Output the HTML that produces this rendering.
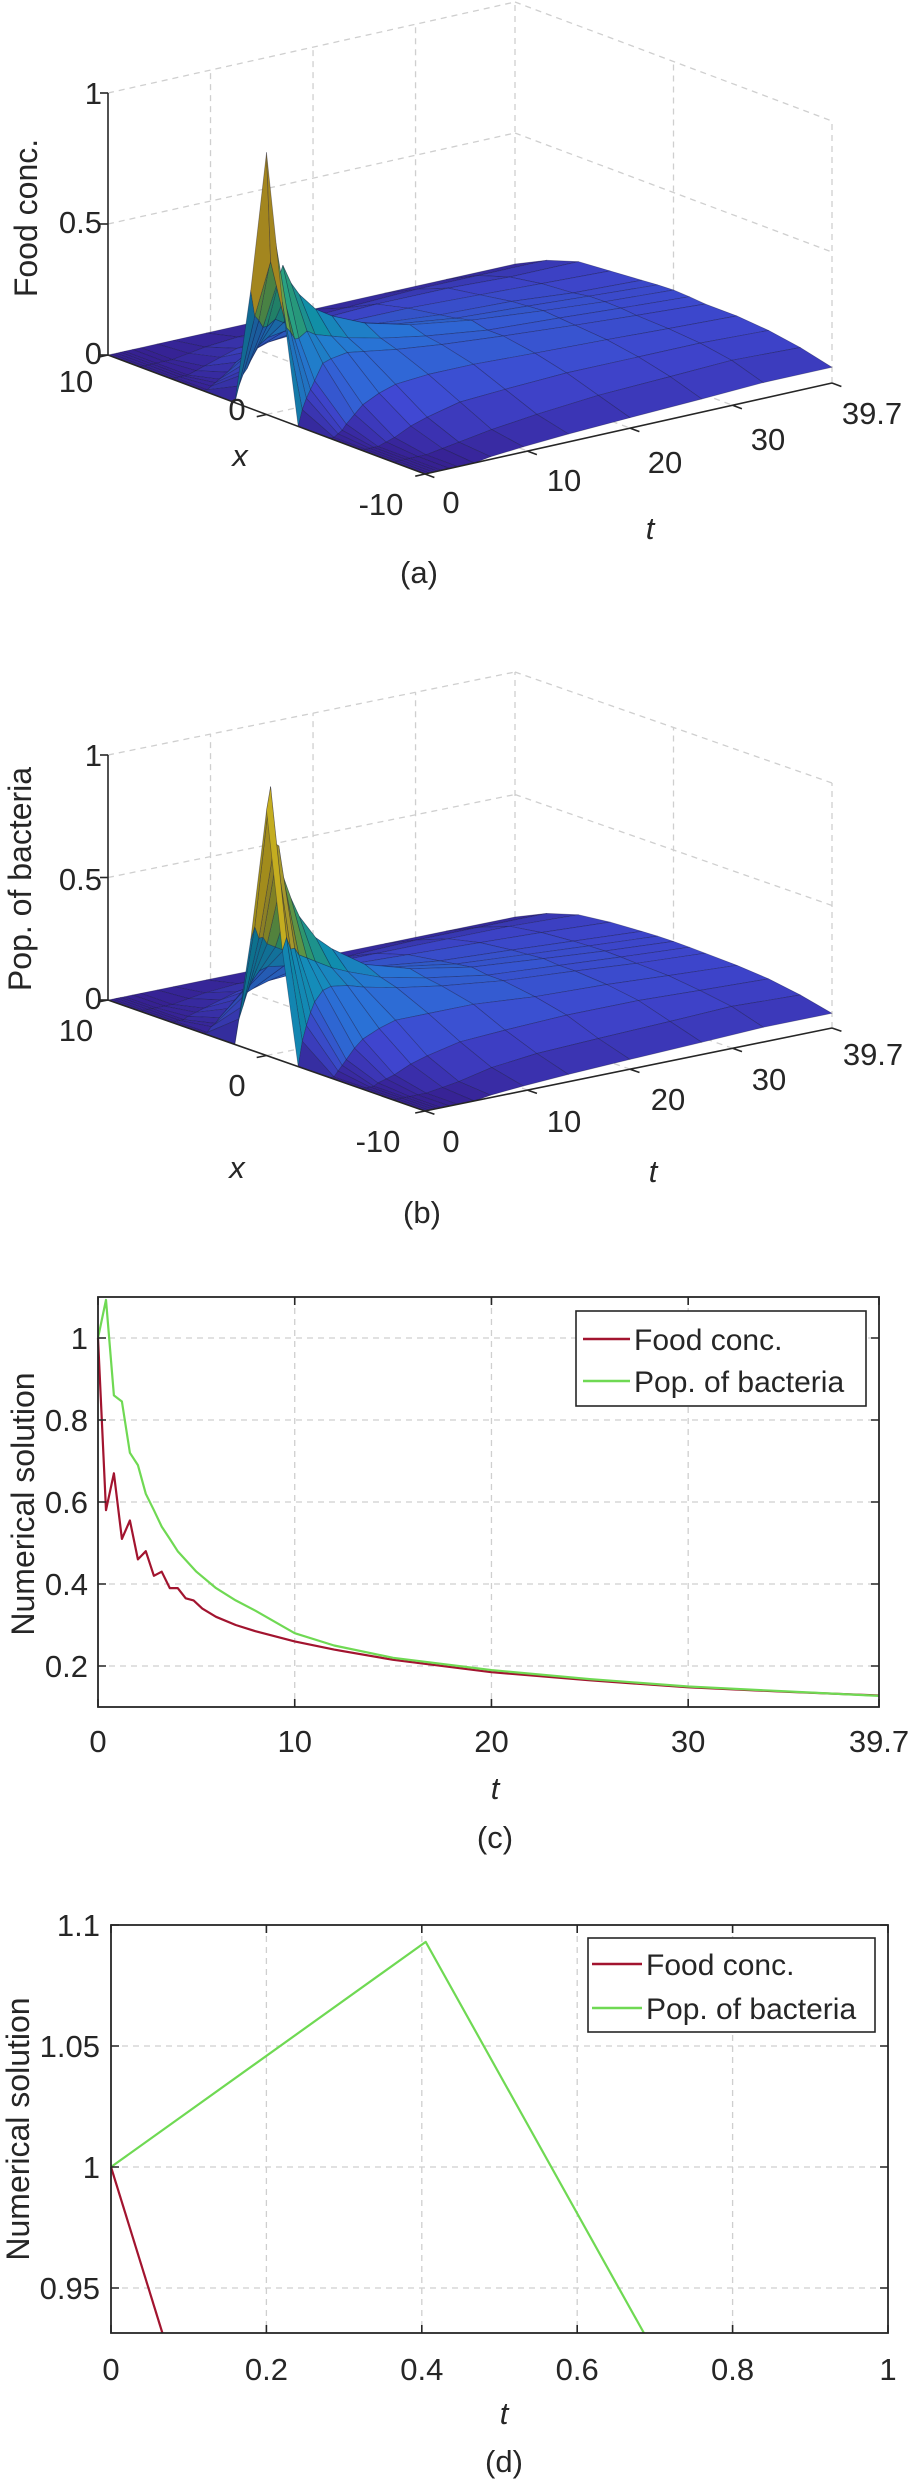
<!DOCTYPE html>
<html>
<head>
<meta charset="utf-8">
<style>
html,body{margin:0;padding:0;background:#fff;width:914px;height:2483px;overflow:hidden;}
svg{display:block;font-family:"Liberation Sans",Arial,sans-serif;}
</style>
</head>
<body>
<svg id="fig" width="914" height="2483" viewBox="0 0 914 2483" xmlns="http://www.w3.org/2000/svg">
</svg>
<script>
// ---------- data ----------
const xGrid=[10,8,6,4,2,1,0,-1,-2,-4,-6,-8,-10];
const tGrid=[0,0.4,0.8,1.2,1.6,2.4,3.2,4.8,6.4,9.6,14,20,27,33,39.7];
const foodZ=[
[0,0,0,0,0,0.45,1,0.45,0,0,0,0,0],
[0,0,0,0,0.06,0.35,0.58,0.35,0.06,0,0,0,0],
[0,0,0,0.01,0.1,0.33,0.67,0.33,0.1,0.01,0,0,0],
[0,0,0,0.02,0.12,0.3,0.51,0.3,0.13,0.02,0,0,0],
[0,0,0,0.03,0.15,0.3,0.555,0.3,0.16,0.04,0,0,0],
[0,0,0.01,0.05,0.2,0.32,0.48,0.32,0.22,0.07,0.01,0,0],
[0,0,0.02,0.08,0.22,0.3,0.43,0.3,0.23,0.1,0.02,0,0],
[0,0.01,0.04,0.11,0.23,0.28,0.36,0.28,0.24,0.13,0.05,0.01,0],
[0,0.02,0.06,0.13,0.22,0.26,0.32,0.26,0.23,0.15,0.07,0.02,0.01],
[0,0.03,0.08,0.14,0.2,0.23,0.265,0.23,0.21,0.16,0.1,0.04,0.02],
[0,0.04,0.1,0.14,0.18,0.2,0.22,0.2,0.19,0.16,0.11,0.06,0.03],
[0,0.05,0.11,0.14,0.16,0.17,0.185,0.17,0.17,0.15,0.12,0.08,0.04],
[0,0.06,0.11,0.13,0.15,0.155,0.16,0.155,0.15,0.14,0.12,0.09,0.05],
[0,0.06,0.1,0.12,0.13,0.14,0.142,0.14,0.135,0.13,0.12,0.1,0.06],
[0,0.06,0.1,0.11,0.12,0.125,0.128,0.125,0.12,0.12,0.11,0.09,0.06]];
const bactZ=[
[0,0,0,0,0,0.45,1,0.45,0,0,0,0,0],
[0,0,0,0,0.1,0.5,1.093,0.5,0.1,0,0,0,0],
[0,0,0,0.02,0.15,0.45,0.86,0.45,0.16,0.02,0,0,0],
[0,0,0,0.03,0.2,0.45,0.845,0.45,0.21,0.04,0,0,0],
[0,0,0.01,0.05,0.24,0.42,0.72,0.42,0.25,0.06,0.01,0,0],
[0,0,0.02,0.08,0.28,0.4,0.62,0.4,0.29,0.1,0.02,0,0],
[0,0,0.03,0.11,0.29,0.38,0.54,0.38,0.3,0.13,0.03,0,0],
[0,0.01,0.05,0.14,0.28,0.34,0.44,0.34,0.29,0.16,0.06,0.01,0],
[0,0.02,0.07,0.16,0.26,0.31,0.38,0.31,0.27,0.18,0.08,0.02,0.01],
[0,0.03,0.09,0.17,0.23,0.26,0.29,0.26,0.24,0.18,0.11,0.05,0.02],
[0,0.04,0.11,0.16,0.2,0.22,0.235,0.22,0.21,0.18,0.12,0.07,0.03],
[0,0.05,0.11,0.15,0.17,0.18,0.19,0.18,0.18,0.16,0.13,0.08,0.04],
[0,0.06,0.11,0.14,0.155,0.16,0.165,0.16,0.16,0.15,0.13,0.09,0.05],
[0,0.06,0.11,0.13,0.14,0.143,0.145,0.143,0.14,0.135,0.12,0.1,0.06],
[0,0.06,0.1,0.115,0.123,0.126,0.127,0.126,0.124,0.12,0.11,0.09,0.06]];
const tFood=[0,0.405,0.81,1.215,1.62,2.03,2.43,2.84,3.24,3.65,4.05,4.46,4.86,5.3,6,7,8,10,12,15,20,25,30,35,39.7];
const food=[1,0.58,0.67,0.51,0.555,0.46,0.48,0.42,0.43,0.39,0.39,0.365,0.36,0.34,0.32,0.30,0.285,0.26,0.24,0.215,0.185,0.165,0.148,0.137,0.128];
const tBact=[0,0.405,0.81,1.215,1.62,2.03,2.43,2.84,3.24,3.65,4.05,5,6,7,8,10,12,15,20,25,30,35,39.7];
const bact=[1,1.093,0.86,0.845,0.72,0.69,0.62,0.58,0.54,0.51,0.48,0.43,0.39,0.36,0.335,0.28,0.25,0.22,0.19,0.168,0.15,0.138,0.127];
const ticksC_x=[0,10,20,30,39.7];
const ticksC_y=[0.2,0.4,0.6,0.8,1];
const ticksD_x=[0,0.2,0.4,0.6,0.8,1];
const ticksD_y=[0.95,1,1.05,1.1];
const legendLabels=["Food conc.","Pop. of bacteria"];

// ---------- helpers ----------
const NS="http://www.w3.org/2000/svg";
const svg=document.getElementById('fig');
function mk(tag,attrs,parent){const e=document.createElementNS(NS,tag);for(const k in attrs)e.setAttribute(k,attrs[k]);(parent||svg).appendChild(e);return e;}
function txt(s,x,y,opts,parent){const e=mk('text',Object.assign({x:x,y:y,'font-size':31,fill:'#262626','text-anchor':'middle'},opts||{}),parent);e.textContent=s;return e;}
const RED='#a2142f', GREEN='#6fd953', AX='#262626', GRID='#cfcfcf';
const PARULA=[[0,[62,38,168]],[0.125,[71,80,235]],[0.25,[46,135,247]],[0.375,[18,177,214]],[0.5,[55,200,151]],[0.625,[171,199,57]],[0.75,[254,195,56]],[0.875,[246,226,36]],[1,[249,251,20]]];
function parula(v){v=Math.max(0,Math.min(1,v));for(let i=1;i<PARULA.length;i++){if(v<=PARULA[i][0]){const a=PARULA[i-1],b=PARULA[i];const f=(v-a[0])/(b[0]-a[0]);return a[1].map((c,k)=>c+(b[1][k]-c)*f);}}return PARULA[PARULA.length-1][1];}
// Liang-Barsky clip of a segment to a rectangle
function clipSeg(x0,y0,x1,y1,L,T,R,B){
  let t0=0,t1=1;const dx=x1-x0,dy=y1-y0;
  const p=[-dx,dx,-dy,dy],q=[x0-L,R-x0,y0-T,B-y0];
  for(let i=0;i<4;i++){
    if(p[i]===0){if(q[i]<0)return null;}
    else{const r=q[i]/p[i];if(p[i]<0){if(r>t1)return null;if(r>t0)t0=r;}else{if(r<t0)return null;if(r<t1)t1=r;}}
  }
  return [x0+t0*dx,y0+t0*dy,x0+t1*dx,y0+t1*dy];
}

// ---------- 3D panels ----------
function draw3D(name,Z,A,B,C,H,lab){
  const g=mk('g',{});
  
  
  const P=(x,t,z)=>[A[0]+(10-x)/20*(B[0]-A[0])+t/39.7*(C[0]-B[0]), A[1]+(10-x)/20*(B[1]-A[1])+t/39.7*(C[1]-B[1])-z*H];
  const dl=(p,q,nm)=>{const l=mk('line',{x1:p[0],y1:p[1],x2:q[0],y2:q[1],stroke:GRID,'stroke-width':1.3,'stroke-dasharray':'6,5'},g);
    
    };
  [10,20,30,39.7].forEach(t=>dl(P(10,t,0),P(10,t,1),'back-grid-vertical'));
  [0.5,1].forEach(z=>dl(P(10,0,z),P(10,39.7,z),'back-grid-horizontal'));
  [0,-10].forEach(x=>dl(P(x,39.7,0),P(x,39.7,1),'side-grid-vertical'));
  [0.5,1].forEach(z=>dl(P(10,39.7,z),P(-10,39.7,z),'side-grid-horizontal'));
  [10,20,30].forEach(t=>dl(P(10,t,0),P(-10,t,0),'floor-grid-t'));
  dl(P(0,0,0),P(0,39.7,0),'floor-grid-x');
  let zmax=0;Z.forEach(r=>r.forEach(v=>{if(v>zmax)zmax=v;}));
  const quads=[];
  for(let i=0;i<tGrid.length-1;i++){for(let j=0;j<xGrid.length-1;j++){
    const c=[[xGrid[j],tGrid[i],Z[i][j]],[xGrid[j+1],tGrid[i],Z[i][j+1]],[xGrid[j+1],tGrid[i+1],Z[i+1][j+1]],[xGrid[j],tGrid[i+1],Z[i+1][j]]];
    const zav=Math.max(c[0][2],c[1][2],c[2][2],c[3][2])*0.5+(c[0][2]+c[1][2]+c[2][2]+c[3][2])/8;
    const xc=(xGrid[j]+xGrid[j+1])/2, tc=(tGrid[i]+tGrid[i+1])/2;
    const W=p=>[(10-p[0])/20*340,p[1]/39.7*417,p[2]*H];
    const a=W(c[0]),b=W(c[1]),d=W(c[3]),e=W(c[2]);
    const v1=[e[0]-a[0],e[1]-a[1],e[2]-a[2]], v2=[d[0]-b[0],d[1]-b[1],d[2]-b[2]];
    let n=[v1[1]*v2[2]-v1[2]*v2[1],v1[2]*v2[0]-v1[0]*v2[2],v1[0]*v2[1]-v1[1]*v2[0]];
    const nl=Math.hypot(n[0],n[1],n[2])||1;n=n.map(q=>q/nl);if(n[2]<0)n=n.map(q=>-q);
    const L=[0.35,-0.35,0.87];
    const dot=Math.max(0,n[0]*L[0]+n[1]*L[1]+n[2]*L[2]);
    const shade=0.65+0.25*dot;
    quads.push({c,zav,depth:(xc+10)/20+tc/39.7,shade});
  }}
  quads.sort((p,q)=>q.depth-p.depth);
  quads.forEach(q=>{
    const col=parula(q.zav/zmax).map(v=>Math.min(255,Math.round(v*q.shade)));
    const pts=q.c.map(p=>P(p[0],p[1],p[2]).map(v=>v.toFixed(1)).join(',')).join(' ');
    const pg=mk('polygon',{points:pts,fill:`rgb(${col[0]},${col[1]},${col[2]})`,stroke:'#14143a','stroke-width':0.7,'stroke-opacity':0.4,'stroke-linejoin':'round'},g);
    
    
  });
  const al=(p,q,nm)=>{const l=mk('line',{x1:p[0],y1:p[1],x2:q[0],y2:q[1],stroke:AX,'stroke-width':1.6},g);
    
    };
  al(P(10,0,0),P(10,0,1),'z-axis');
  [0,0.5,1].forEach(z=>{const p=P(10,0,z);al(p,[p[0]-8,p[1]],'z-tick');});
  al(P(10,0,0),P(-10,0,0),'x-axis');
  const tl=Math.hypot(C[0]-B[0],C[1]-B[1]);const td=[-(C[0]-B[0])/tl*10,-(C[1]-B[1])/tl*10];
  [10,0,-10].forEach(x=>{const p=P(x,0,0);al(p,[p[0]+td[0],p[1]+td[1]],'x-tick');});
  al(P(-10,0,0),P(-10,39.7,0),'t-axis');
  const xl=Math.hypot(B[0]-A[0],B[1]-A[1]);const xd=[(B[0]-A[0])/xl*10,(B[1]-A[1])/xl*10];
  [0,10,20,30,39.7].forEach(t=>{const p=P(-10,t,0);al(p,[p[0]+xd[0],p[1]+xd[1]],'t-tick');});
  lab.z.forEach(o=>{const e=txt(o[0],102,o[1]+11,{'text-anchor':'end'},g);
    
    });
  lab.x.forEach(o=>{const e=txt(o[0],o[1],o[2]+11,{},g);
    
    });
  lab.t.forEach(o=>{const e=txt(o[0],o[1],o[2]+11,{},g);
    
    });
  let e=txt('x',lab.xl[0],lab.xl[1]+11,{'font-style':'italic'},g);
  
  
  e=txt('t',lab.tl[0],lab.tl[1]+11,{'font-style':'italic'},g);
  
  
  e=txt(lab.cap,lab.cp[0],lab.cp[1]+11,{},g);
  
  
  e=txt(lab.yt,0,0,{'font-size':32,transform:`translate(${lab.yp[0]+11},${lab.yp[1]}) rotate(-90)`},g);
  
  
}
draw3D('panel-a-food-surface',foodZ,[108,355],[425,474],[832,383],262,{
  z:[['1',93],['0.5',222],['0',353]],
  x:[['10',76,381],['0',237,409],['-10',381,504]],
  t:[['0',451,502],['10',564,480],['20',665,462],['30',768,439],['39.7',872,413]],
  xl:[240,455],tl:[650,528],cap:'(a)',cp:[419,572],yt:'Food conc.',yp:[26,218]});
draw3D('panel-b-bacteria-surface',bactZ,[108,1000],[425,1111],[832,1028],245,{
  z:[['1',755],['0.5',879],['0',998]],
  x:[['10',76,1030],['0',237,1085],['-10',378,1141]],
  t:[['0',451,1141],['10',564,1121],['20',668,1099],['30',769,1079],['39.7',873,1054]],
  xl:[237,1167],tl:[653,1171],cap:'(b)',cp:[422,1212],yt:'Pop. of bacteria',yp:[20,879]});

// ---------- 2D panels ----------
function draw2D(name,cfg){
  const g=mk('g',{});
  
  
  const [L,T,R,Bt]=cfg.box;
  const sx=v=>L+(v-cfg.xmin)/(cfg.xmax-cfg.xmin)*(R-L);
  const sy=v=>Bt-(v-cfg.ymin)/(cfg.ymax-cfg.ymin)*(Bt-T);
  cfg.xt.forEach(v=>{if(v>cfg.xmin&&v<cfg.xmax){const l=mk('line',{x1:sx(v),y1:T,x2:sx(v),y2:Bt,stroke:GRID,'stroke-width':1.3,'stroke-dasharray':'6,5'},g);
    
    }});
  cfg.yt.forEach(v=>{if(v>cfg.ymin&&v<cfg.ymax){const l=mk('line',{x1:L,y1:sy(v),x2:R,y2:sy(v),stroke:GRID,'stroke-width':1.3,'stroke-dasharray':'6,5'},g);
    
    }});
  const series=[[cfg.t1,cfg.v1,RED,'food-conc-line'],[cfg.t2,cfg.v2,GREEN,'bacteria-line']];
  series.forEach(s=>{
    let d='';let last=null;
    for(let i=0;i<s[0].length-1;i++){
      const c=clipSeg(sx(s[0][i]),sy(s[1][i]),sx(s[0][i+1]),sy(s[1][i+1]),L,T,R,Bt);
      if(!c)continue;
      const a=c[0].toFixed(1)+','+c[1].toFixed(1), b=c[2].toFixed(1)+','+c[3].toFixed(1);
      if(last!==a)d+='M'+a;
      d+='L'+b;last=b;
    }
    const pl=mk('path',{d:d,fill:'none',stroke:s[2],'stroke-width':2.2,'stroke-linejoin':'round'},g);
    
    });
  const box=mk('rect',{x:L,y:T,width:R-L,height:Bt-T,fill:'none',stroke:AX,'stroke-width':1.8},g);
  
  
  cfg.xt.forEach((v,i)=>{
    const tk=mk('path',{d:`M${sx(v)},${Bt}v-8M${sx(v)},${T}v8`,stroke:AX,'stroke-width':1.6},g);
    
    
    const e=txt(cfg.xtl[i],sx(v),cfg.xly,{},g);
    
    });
  cfg.yt.forEach((v,i)=>{
    const tk=mk('path',{d:`M${L},${sy(v)}h8M${R},${sy(v)}h-8`,stroke:AX,'stroke-width':1.6},g);
    
    
    const e=txt(cfg.ytl[i],cfg.ylx,sy(v)+11,{'text-anchor':'end'},g);
    
    });
  let e=txt('t',cfg.tlab[0],cfg.tlab[1]+11,{'font-style':'italic'},g);
  
  
  e=txt(cfg.cap,cfg.cp[0],cfg.cp[1]+11,{},g);
  
  
  e=txt('Numerical solution',0,0,{'font-size':32,transform:`translate(${cfg.yp[0]+11},${cfg.yp[1]}) rotate(-90)`},g);
  
  
  const lg=mk('g',{},g);
  
  
  const [lx,ly,lr,lb]=cfg.leg;
  mk('rect',{x:lx,y:ly,width:lr-lx,height:lb-ly,fill:'#fff',stroke:AX,'stroke-width':1.6},lg);
  [[RED,cfg.legRows[0]],[GREEN,cfg.legRows[1]]].forEach((r,i)=>{
    const en=mk('g',{},lg);
    
    
    mk('line',{x1:cfg.legLine[0],y1:r[1],x2:cfg.legLine[1],y2:r[1],stroke:r[0],'stroke-width':2.4},en);
    txt(legendLabels[i],cfg.legLine[1]+4,r[1]+11,{'text-anchor':'start','font-size':30},en);
  });
}
draw2D('panel-c-line-chart',{box:[98,1297,879,1707],xmin:0,xmax:39.7,ymin:0.1,ymax:1.1,
  xt:ticksC_x,xtl:['0','10','20','30','39.7'],yt:ticksC_y,ytl:['0.2','0.4','0.6','0.8','1'],
  xly:1752,ylx:88,t1:tFood,v1:food,t2:tBact,v2:bact,
  tlab:[495,1788],cap:'(c)',cp:[495,1837],yp:[23,1504],
  leg:[576,1311,866,1406],legLine:[583,630],legRows:[1339,1381]});
draw2D('panel-d-line-chart',{box:[111,1925,888,2333],xmin:0,xmax:1,ymin:0.9314,ymax:1.1,
  xt:ticksD_x,xtl:['0','0.2','0.4','0.6','0.8','1'],yt:ticksD_y,ytl:['0.95','1','1.05','1.1'],
  xly:2380,ylx:100,t1:tFood,v1:food,t2:tBact,v2:bact,
  tlab:[504,2413],cap:'(d)',cp:[504,2461],yp:[18,2129],
  leg:[588,1938,875,2032],legLine:[592,642],legRows:[1964,2008]});
</script>
</body>
</html>
